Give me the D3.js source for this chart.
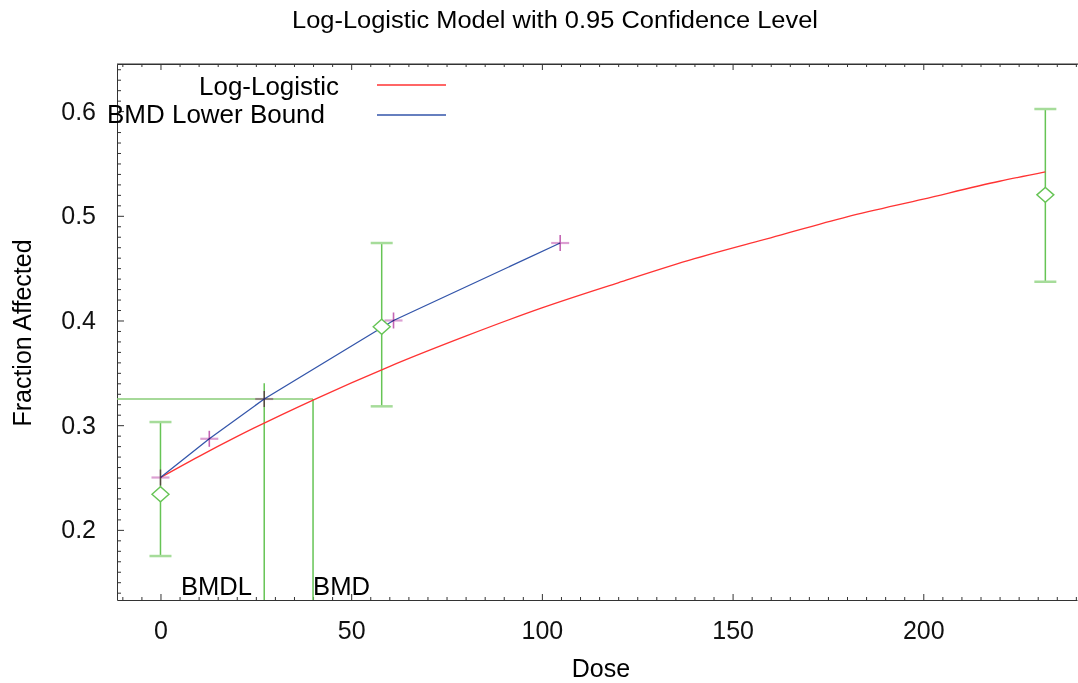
<!DOCTYPE html>
<html>
<head>
<meta charset="utf-8">
<script src="https://cdn.jsdelivr.net/npm/d3@7/dist/d3.min.js"></script>
<style>
  body { margin: 0; background: #fff; }
  svg { font-family: "Liberation Sans", Arial, sans-serif; }
  .axis path, .axis line { stroke: #333; }
  .axis text { font-size: 25px; fill: #111; }
</style>
</head>
<body>
<div id="chart"></div>
<script>
// observed dose groups with 95% confidence intervals
const doseObs = [0, 58, 232];
const fracObs = [0.234, 0.394, 0.520];
const ciLow = [0.175, 0.318, 0.437];
const ciHigh = [0.303, 0.474, 0.602];

// fitted log-logistic curve
const fitDose = [0, 10, 20, 40, 60, 80, 100, 120, 140, 160, 180, 200, 220, 232];
const fitFrac = [0.250, 0.270, 0.289, 0.324, 0.356, 0.385, 0.412, 0.436, 0.459, 0.479, 0.499, 0.516, 0.533, 0.542];

// lower bound curve, drawn through its plus markers
const lowerDose = [0, 12.8, 27.2, 61.1, 104.8];
const lowerFrac = [0.250, 0.287, 0.325, 0.400, 0.474];

const bmd = 40.0, bmdl = 27.2, bmrFrac = 0.325, bmdlTop = 0.340;

const xTicks = [0, 50, 100, 150, 200];
const yTicks = [0.2, 0.3, 0.4, 0.5, 0.6];
const legendNames = ["Log-Logistic", "BMD Lower Bound"];
const legendColors = ["#ff3333", "#3355aa"];

const W = 1078, H = 683;
const plotLeft = 117, plotRight = 1077, plotTop = 64, plotBottom = 600;

const svg = d3.select("#chart")
    .append("svg")
    .attr("width", W)
    .attr("height", H);

const x = d3.scaleLinear().domain([-11.4, 240.3]).range([plotLeft, plotRight]);
const y = d3.scaleLinear().domain([0.133, 0.645]).range([plotBottom, plotTop]);

const green = "#66c455", greenLight = "#a6dc9a";

// title
svg.append("text")
    .attr("x", 292).attr("y", 28)
    .attr("textLength", 526).attr("lengthAdjust", "spacingAndGlyphs")
    .style("font-size", "23.5px")
    .text("Log-Logistic Model with 0.95 Confidence Level");

// axes: minor + major ticks, pointing inward
const minorX = d3.range(-10, 241, 5).filter(d => d % 50 !== 0);
const minorY = d3.range(14, 65, 1).map(d => d / 100).filter(d => Math.round(d * 100) % 10 !== 0);

svg.append("g").attr("class", "axis")
    .attr("transform", `translate(0,${plotBottom})`)
    .call(d3.axisBottom(x).tickValues(minorX).tickSize(-3).tickSizeOuter(0).tickFormat(""));
svg.append("g").attr("class", "axis")
    .attr("transform", `translate(0,${plotBottom})`)
    .call(d3.axisBottom(x).tickValues(xTicks).tickSize(-6).tickSizeOuter(0).tickPadding(21).tickFormat(d3.format("d")))
    .call(g => g.select(".domain").remove());

svg.append("g").attr("class", "axis")
    .attr("transform", `translate(0,${plotTop})`)
    .call(d3.axisTop(x).tickValues(minorX).tickSize(-3).tickSizeOuter(0).tickFormat(""));
svg.append("g").attr("class", "axis")
    .attr("transform", `translate(0,${plotTop})`)
    .call(d3.axisTop(x).tickValues(xTicks).tickSize(-6).tickSizeOuter(0).tickFormat(""))
    .call(g => g.select(".domain").remove());
svg.append("line")
    .attr("x1", plotLeft).attr("x2", W).attr("y1", plotTop).attr("y2", plotTop)
    .attr("stroke", "#333");

svg.append("g").attr("class", "axis")
    .attr("transform", `translate(${plotLeft},0)`)
    .call(d3.axisLeft(y).tickValues(minorY).tickSize(-4).tickSizeOuter(0).tickFormat(""));
svg.append("g").attr("class", "axis")
    .attr("transform", `translate(${plotLeft},0)`)
    .call(d3.axisLeft(y).tickValues(yTicks).tickSize(-7).tickSizeOuter(0).tickPadding(21).tickFormat(d3.format(".1f")))
    .call(g => g.select(".domain").remove());

// axis titles
svg.append("text")
    .attr("x", 601).attr("y", 677)
    .attr("text-anchor", "middle")
    .style("font-size", "25px")
    .text("Dose");
svg.append("text")
    .attr("transform", "rotate(-90)")
    .attr("x", -333).attr("y", 31)
    .attr("text-anchor", "middle")
    .style("font-size", "25px")
    .text("Fraction Affected");

// BMD / BMDL guide lines
svg.append("line")
    .attr("x1", plotLeft).attr("x2", x(bmd))
    .attr("y1", y(bmrFrac)).attr("y2", y(bmrFrac))
    .attr("stroke", "#88cc77").attr("stroke-width", 1.3);
svg.append("line")
    .attr("x1", x(bmd)).attr("x2", x(bmd))
    .attr("y1", y(bmrFrac)).attr("y2", plotBottom)
    .attr("stroke", green).attr("stroke-width", 1.5);
svg.append("line")
    .attr("x1", x(bmdl)).attr("x2", x(bmdl))
    .attr("y1", y(bmdlTop)).attr("y2", plotBottom)
    .attr("stroke", green).attr("stroke-width", 1.5);

svg.append("text")
    .attr("x", 181).attr("y", 595)
    .attr("textLength", 71).attr("lengthAdjust", "spacingAndGlyphs")
    .style("font-size", "25px")
    .text("BMDL");
svg.append("text")
    .attr("x", x(bmd)).attr("y", 595)
    .attr("textLength", 57).attr("lengthAdjust", "spacingAndGlyphs")
    .style("font-size", "25px")
    .text("BMD");

// error bars
const obs = doseObs.map((d, i) => ({dose: d, frac: fracObs[i], lo: ciLow[i], hi: ciHigh[i]}));
const bars = svg.selectAll(".errbar").data(obs).enter().append("g").attr("class", "errbar");
bars.append("line")
    .attr("x1", d => x(d.dose)).attr("x2", d => x(d.dose))
    .attr("y1", d => y(d.lo)).attr("y2", d => y(d.hi))
    .attr("stroke", green).attr("stroke-width", 1.5);
bars.append("line")
    .attr("x1", d => x(d.dose) - 11).attr("x2", d => x(d.dose) + 11)
    .attr("y1", d => y(d.hi)).attr("y2", d => y(d.hi))
    .attr("stroke", greenLight).attr("stroke-width", 2.5);
bars.append("line")
    .attr("x1", d => x(d.dose) - 11).attr("x2", d => x(d.dose) + 11)
    .attr("y1", d => y(d.lo)).attr("y2", d => y(d.lo))
    .attr("stroke", greenLight).attr("stroke-width", 2.5);

// curves
const smooth = d3.line().x(d => x(d[0])).y(d => y(d[1])).curve(d3.curveMonotoneX);
const straight = d3.line().x(d => x(d[0])).y(d => y(d[1]));
svg.append("path")
    .datum(fitDose.map((d, i) => [d, fitFrac[i]]))
    .attr("d", smooth)
    .attr("fill", "none").attr("stroke", legendColors[0]).attr("stroke-width", 1.3);
svg.append("path")
    .datum(lowerDose.map((d, i) => [d, lowerFrac[i]]))
    .attr("d", straight)
    .attr("fill", "none").attr("stroke", legendColors[1]).attr("stroke-width", 1.3);

// diamonds for observed means
svg.selectAll(".diamond").data(obs).enter().append("path")
    .attr("class", "diamond")
    .attr("d", d => {
        const cx = x(d.dose), cy = y(d.frac);
        return `M${cx - 8.5},${cy}L${cx},${cy - 7.5}L${cx + 8.5},${cy}L${cx},${cy + 7.5}Z`;
    })
    .attr("fill", "#fff").attr("stroke", green).attr("stroke-width", 1.4);

// plus markers on lower bound curve
const marks = svg.selectAll(".mark")
    .data(lowerDose.map((d, i) => [d, lowerFrac[i]]))
    .enter().append("g").attr("class", "mark")
    .style("mix-blend-mode", "multiply");
marks.append("line")
    .attr("x1", d => x(d[0]) - 9).attr("x2", d => x(d[0]) + 9)
    .attr("y1", d => y(d[1])).attr("y2", d => y(d[1]))
    .attr("stroke", "#dc9fd2").attr("stroke-width", 2.2);
marks.append("line")
    .attr("x1", d => x(d[0])).attr("x2", d => x(d[0]))
    .attr("y1", d => y(d[1]) - 8).attr("y2", d => y(d[1]) + 8)
    .attr("stroke", "#c465b4").attr("stroke-width", 1.6);

// legend
const legendY = [95, 123], legendStart = [199, 107], legendWidth = [140, 218], legendLineY = [85, 115];
legendNames.forEach((name, i) => {
    svg.append("text")
        .attr("x", legendStart[i]).attr("y", legendY[i])
        .attr("textLength", legendWidth[i]).attr("lengthAdjust", "spacingAndGlyphs")
        .style("font-size", "25px")
        .text(name);
    svg.append("line")
        .attr("x1", 377).attr("x2", 446)
        .attr("y1", legendLineY[i]).attr("y2", legendLineY[i])
        .attr("stroke", legendColors[i]).attr("stroke-width", 1.3);
});
</script>
</body>
</html>
